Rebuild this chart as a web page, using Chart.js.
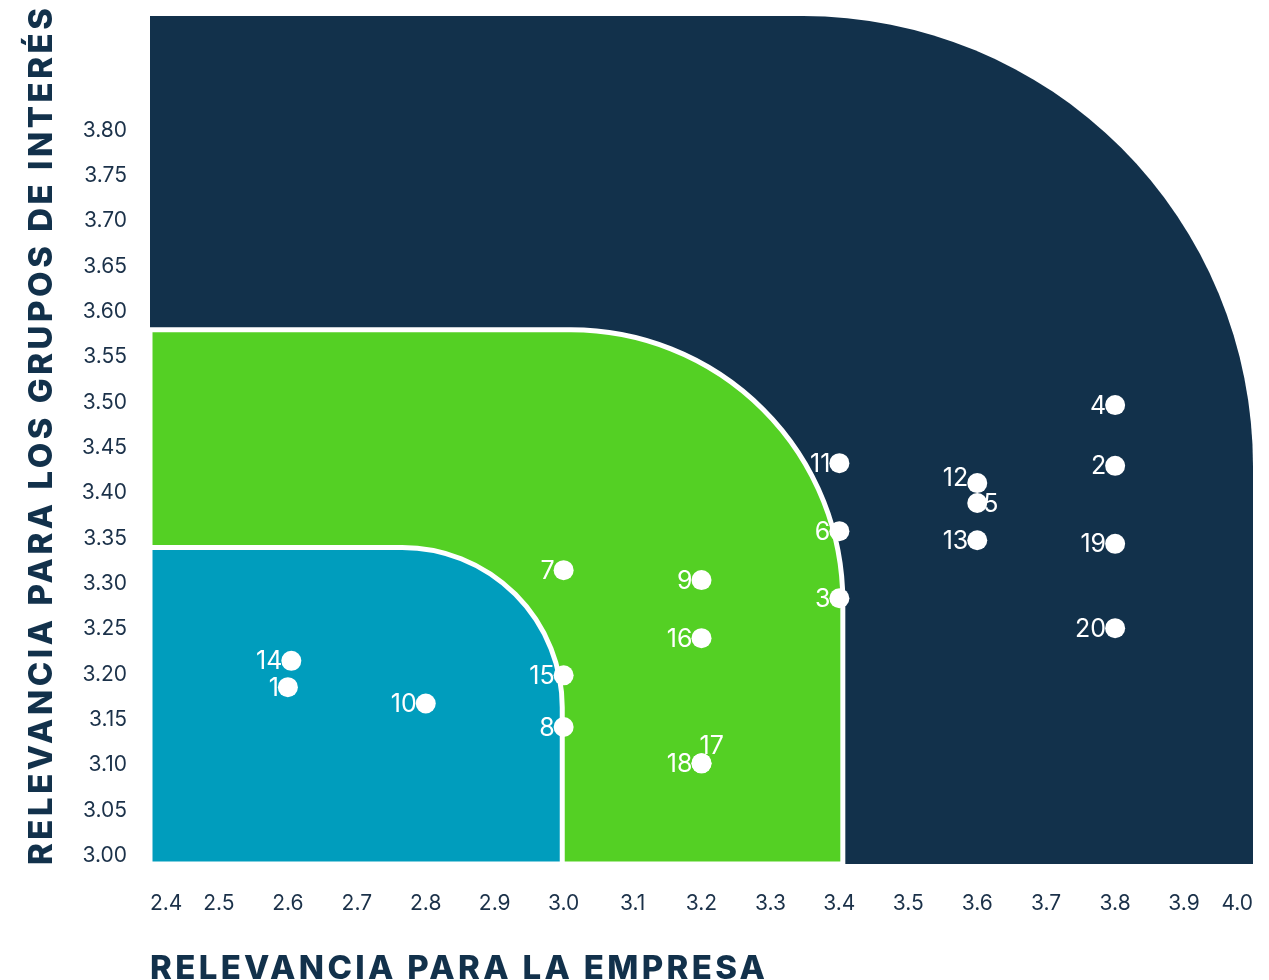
<!DOCTYPE html>
<html lang="es">
<head>
<meta charset="utf-8">
<title>Matriz de materialidad</title>
<script src="https://cdn.jsdelivr.net/npm/chart.js@4.4.1/dist/chart.umd.min.js"></script>
<style>
  html, body { margin: 0; padding: 0; background: #ffffff; }
  #wrap { position: relative; width: 1269px; height: 980px; }
</style>
</head>
<body>
<div id="wrap"><canvas id="matrix"></canvas></div>
<script>
// Data
const topicIds = ['1', '2', '3', '4', '5', '6', '7', '8', '9', '10',
                  '11', '12', '13', '14', '15', '16', '17', '18', '19', '20'];
const empresaValues = [2.60, 3.80, 3.40, 3.80, 3.60, 3.40, 3.00, 3.00, 3.20, 2.80,
                       3.40, 3.60, 3.60, 2.605, 3.00, 3.20, 3.20, 3.20, 3.80, 3.80];
const gruposValues = [3.186, 3.430, 3.284, 3.497, 3.389, 3.358, 3.315, 3.142, 3.304, 3.168,
                      3.433, 3.411, 3.348, 3.215, 3.199, 3.240, 3.102, 3.102, 3.344, 3.251];

const xTickValues = [2.4, 2.5, 2.6, 2.7, 2.8, 2.9, 3.0, 3.1, 3.2, 3.3, 3.4, 3.5, 3.6, 3.7, 3.8, 3.9, 4.0];
const yTickValues = [3.00, 3.05, 3.10, 3.15, 3.20, 3.25, 3.30, 3.35, 3.40, 3.45, 3.50,
                     3.55, 3.60, 3.65, 3.70, 3.75, 3.80];

// Zone limits (data units)
const zoneGreen = { right: 3.405, top: 3.58 };
const zoneBlue = { right: 2.998, top: 3.34 };

const xTitle = 'RELEVANCIA PARA LA EMPRESA';
const yTitle = 'RELEVANCIA PARA LOS GRUPOS DE INTERÉS';

const NAVY = '#12314b';
const GREEN = '#54d024';
const BLUE = '#009dbd';
const TEXT = '#1b3149';
const FONT = 'Inter, "Open Sans", sans-serif';

// Label placement exceptions
const labelTweaks = {
    '5': { align: 'left', dx: 6, dy: 1 },
    '17': { align: 'left', dx: -2, dy: -17 },
    '12': { dy: -5 }
};

const points = topicIds.map((id, i) => ({ x: empresaValues[i], y: gruposValues[i], id: id }));

// Coloured zones + point labels, drawn under the dots
const zonesPlugin = {
    id: 'zones',
    beforeDatasetsDraw(chart) {
        const { ctx, chartArea: a, scales } = chart;
        const xs = scales.x, ys = scales.y;
        ctx.save();

        ctx.fillStyle = NAVY;
        ctx.beginPath();
        ctx.roundRect(a.left, a.top, a.right - a.left, a.bottom - a.top, [0, 450, 0, 0]);
        ctx.fill();

        const drawZone = (zone, color, radius) => {
            const r = xs.getPixelForValue(zone.right);
            const t = ys.getPixelForValue(zone.top);
            ctx.beginPath();
            ctx.roundRect(a.left, t, r - a.left, a.bottom - t, [0, radius, 0, 0]);
            ctx.fillStyle = color;
            ctx.fill();
            ctx.lineWidth = 5;
            ctx.strokeStyle = '#ffffff';
            ctx.stroke();
        };
        drawZone(zoneGreen, GREEN, 272);
        drawZone(zoneBlue, BLUE, 160);

        // point labels
        ctx.fillStyle = '#ffffff';
        ctx.font = '400 25px ' + FONT;
        ctx.textBaseline = 'middle';
        const meta = chart.getDatasetMeta(0);
        meta.data.forEach((el, i) => {
            const id = topicIds[i];
            const tw = labelTweaks[id] || {};
            ctx.textAlign = tw.align || 'right';
            const dx = tw.dx !== undefined ? tw.dx : -9;
            const dy = tw.dy !== undefined ? tw.dy : 1;
            ctx.fillText(id, el.x + dx, el.y + dy);
        });
        ctx.restore();
    }
};

// Spaced-out axis titles
const titlesPlugin = {
    id: 'titles',
    afterDraw(chart) {
        const { ctx, chartArea: a } = chart;
        ctx.save();
        ctx.fillStyle = NAVY;
        ctx.font = '800 33px ' + FONT;
        ctx.textAlign = 'left';
        ctx.textBaseline = 'alphabetic';

        const fit = (text, target) => {
            ctx.letterSpacing = '0px';
            const w0 = ctx.measureText(text).width;
            ctx.letterSpacing = ((target - w0) / (text.length - 1)) + 'px';
        };

        // vertical
        ctx.save();
        ctx.translate(52, 865);
        ctx.rotate(-Math.PI / 2);
        fit(yTitle, 857);
        ctx.fillText(yTitle, 0, 0);
        ctx.restore();

        // horizontal
        fit(xTitle, 615);
        ctx.fillText(xTitle, a.left, 979);
        ctx.restore();
    }
};

const noScalePadding = (s) => {
    s.paddingTop = 0;
    s.paddingBottom = 0;
    s.paddingLeft = 0;
    s.paddingRight = 0;
};

new Chart(document.getElementById('matrix'), {
    type: 'scatter',
    data: {
        datasets: [{
            data: points,
            pointRadius: 10,
            pointHoverRadius: 10,
            pointBackgroundColor: '#ffffff',
            pointBorderWidth: 0
        }]
    },
    options: {
        responsive: true,
        maintainAspectRatio: false,
        animation: false,
        events: [],
        layout: { padding: { left: 0, right: 16, top: 16, bottom: 0 } },
        plugins: {
            legend: { display: false },
            tooltip: { enabled: false }
        },
        scales: {
            x: {
                type: 'linear',
                min: 2.4,
                max: 4.0,
                grid: { display: false, drawTicks: false },
                border: { display: false },
                afterBuildTicks: (s) => { s.ticks = xTickValues.map(v => ({ value: v })); },
                afterFit: (s) => { s.height = 116; noScalePadding(s); },
                ticks: {
                    align: 'inner',
                    padding: 27,
                    color: TEXT,
                    font: { family: FONT, size: 21 },
                    callback: (v) => Number(v).toFixed(1)
                }
            },
            y: {
                type: 'linear',
                min: 2.991,
                max: 3.926,
                grid: { display: false, drawTicks: false },
                border: { display: false },
                afterBuildTicks: (s) => { s.ticks = yTickValues.map(v => ({ value: v })); },
                afterFit: (s) => { s.width = 150; noScalePadding(s); },
                ticks: {
                    padding: 23,
                    color: TEXT,
                    font: { family: FONT, size: 21 },
                    callback: (v) => Number(v).toFixed(2)
                }
            }
        }
    },
    plugins: [zonesPlugin, titlesPlugin]
});
</script>
</body>
</html>
